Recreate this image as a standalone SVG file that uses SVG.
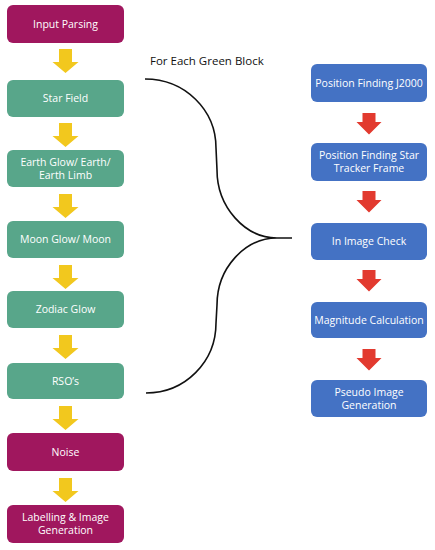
<svg xmlns="http://www.w3.org/2000/svg" width="435" height="550" viewBox="0 0 435 550">
<style>
.box{stroke:none}
.mag{fill:#A0175E}
.grn{fill:#58A68A}
.blu{fill:#4472C4}
.t{font-family:"Open Sans","Liberation Sans",sans-serif;font-size:10.5px;fill:#ffffff;text-anchor:middle}
.lbl{font-family:"Open Sans","Liberation Sans",sans-serif;font-size:11.5px;fill:#111111}
.brace{fill:none;stroke:#111111;stroke-width:1.6}
</style>
<defs>
<path id="ya" d="M-6.5,0 H6.5 V13 H13 L0,24 L-13,13 H-6.5 Z" fill="#F2C81E"/>
<path id="ra" d="M-6.5,0 H6.5 V9 H12.5 L0,21.5 L-12.5,9 H-6.5 Z" fill="#E23A2F"/>
</defs>
<rect width="435" height="550" fill="#ffffff"/>

<g id="connectors">
<use href="#ya" x="65.5" y="49"/>
<use href="#ya" x="65.5" y="123"/>
<use href="#ya" x="65.5" y="194"/>
<use href="#ya" x="65.5" y="265"/>
<use href="#ya" x="65.5" y="335"/>
<use href="#ya" x="65.5" y="406"/>
<use href="#ya" x="65.5" y="478"/>
<use href="#ra" x="369" y="113"/>
<use href="#ra" x="369" y="191"/>
<use href="#ra" x="369" y="270"/>
<use href="#ra" x="369" y="349"/>
<path class="brace" d="M145,79 C185,79 216,110 216,148 L217,170 C217,207 245,238 277,238 L292,238 M277,238 C245,238 217,268 217,305 L216,323 C216,362 185,393 146,393"/>
</g>

<text class="lbl" x="150" y="65">For Each Green Block</text>

<g id="input-parsing"><rect class="box mag" x="7" y="5" width="117" height="38" rx="6"/><text class="t" x="65.5" y="28">Input Parsing</text></g>
<g id="star-field"><rect class="box grn" x="7" y="80" width="117" height="37" rx="6"/><text class="t" x="65.5" y="102">Star Field</text></g>
<g id="earth-glow"><rect class="box grn" x="7" y="150" width="117" height="37" rx="6"/><text class="t" x="65.5" y="166">Earth Glow/ Earth/</text><text class="t" x="65.5" y="179">Earth Limb</text></g>
<g id="moon-glow"><rect class="box grn" x="7" y="221" width="117" height="37" rx="6"/><text class="t" x="65.5" y="243">Moon Glow/ Moon</text></g>
<g id="zodiac-glow"><rect class="box grn" x="7" y="291" width="117" height="37" rx="6"/><text class="t" x="65.5" y="313">Zodiac Glow</text></g>
<g id="rsos"><rect class="box grn" x="7" y="363" width="117" height="36" rx="6"/><text class="t" x="65.5" y="385">RSO’s</text></g>
<g id="noise"><rect class="box mag" x="7" y="433" width="117" height="38" rx="6"/><text class="t" x="65.5" y="456">Noise</text></g>
<g id="labelling"><rect class="box mag" x="7" y="505" width="117" height="38" rx="6"/><text class="t" x="65.5" y="521">Labelling &amp; Image</text><text class="t" x="65.5" y="534">Generation</text></g>

<g id="pos-j2000"><rect class="box blu" x="311" y="64" width="116" height="38" rx="6"/><text class="t" x="369" y="87">Position Finding J2000</text></g>
<g id="pos-star-tracker"><rect class="box blu" x="311" y="143" width="116" height="38" rx="6"/><text class="t" x="369" y="159">Position Finding Star</text><text class="t" x="369" y="172">Tracker Frame</text></g>
<g id="in-image-check"><rect class="box blu" x="311" y="223" width="116" height="37" rx="6"/><text class="t" x="369" y="245">In Image Check</text></g>
<g id="magnitude"><rect class="box blu" x="311" y="302" width="116" height="36" rx="6"/><text class="t" x="369" y="324">Magnitude Calculation</text></g>
<g id="pseudo-image"><rect class="box blu" x="311" y="380" width="116" height="37" rx="6"/><text class="t" x="369" y="396">Pseudo Image</text><text class="t" x="369" y="409">Generation</text></g>
</svg>
